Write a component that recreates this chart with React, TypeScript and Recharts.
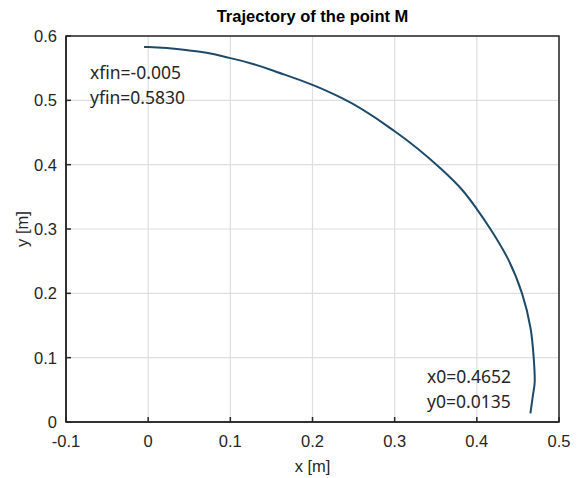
import { LineChart, Line, XAxis, YAxis, CartesianGrid, Label, ReferenceArea } from "recharts";

// trajectory of point M, from x0/y0 (bottom right) to xfin/yfin (top left)
const xs = [0.4652, 0.468, 0.4705, 0.4692, 0.4655, 0.455, 0.4385, 0.4165, 0.4, 0.382, 0.356, 0.3, 0.2365, 0.2, 0.166, 0.1, 0.05, 0, -0.005];
const ys = [0.0135, 0.039, 0.065, 0.1, 0.145, 0.2, 0.252, 0.3, 0.331, 0.361, 0.394, 0.452, 0.503, 0.524, 0.54, 0.5656, 0.5775, 0.5828, 0.583];

const xTicks = [-0.1, 0, 0.1, 0.2, 0.3, 0.4, 0.5];
const yTicks = [0, 0.1, 0.2, 0.3, 0.4, 0.5, 0.6];

const data = xs.map((x, i) => ({ x, y: ys[i] }));

const INK = "#262626";
const FONT = "'Liberation Sans', Arial, sans-serif";
const TS = 16.5;

const tickStyle = { fill: INK, fontSize: TS, fontFamily: FONT };

const note: React.CSSProperties = {
  position: "absolute",
  fontFamily: "'Noto Sans', 'Open Sans', sans-serif",
  fontSize: 17.5,
  color: INK,
  lineHeight: "25px",
  whiteSpace: "pre",
};

// rotated y label, centred on the plot height
const YLabel = ({ viewBox }: any) => {
  const cx = viewBox.x + 22;
  const cy = viewBox.y + viewBox.height / 2;
  return (
    <text
      x={cx}
      y={cy}
      transform={`rotate(-90 ${cx} ${cy})`}
      textAnchor="middle"
      dominantBaseline="central"
      fill={INK}
      fontSize={TS}
      fontFamily={FONT}
    >
      y  [m]
    </text>
  );
};

export default function App() {
  return (
    <div style={{ position: "absolute", left: 0, top: 0, width: 578, height: 478, background: "#fff" }}>
      <div
        style={{
          position: "absolute",
          left: 66,
          width: 493,
          top: 7,
          textAlign: "center",
          fontFamily: FONT,
          fontWeight: "bold",
          fontSize: 16.5,
          color: "#000",
        }}
      >
        Trajectory of the point M
      </div>
      <LineChart width={578} height={478} data={data} margin={{ top: 36, right: 19, bottom: 0, left: 0 }}>
        <CartesianGrid stroke="#dedede" strokeWidth={1.2} fill="none" />
        <XAxis
          dataKey="x"
          type="number"
          domain={[-0.1, 0.5]}
          ticks={xTicks}
          height={56}
          tickSize={-5}
          tickMargin={18}
          tick={tickStyle}
          stroke={INK}
          axisLine={{ stroke: INK, strokeWidth: 1.5 }}
          tickLine={{ stroke: INK, strokeWidth: 1.5 }}
        >
          <Label value="x  [m]" position="insideBottom" offset={6} fill={INK} fontSize={TS} fontFamily={FONT} />
        </XAxis>
        <XAxis
          xAxisId="top"
          orientation="top"
          dataKey="x"
          type="number"
          domain={[-0.1, 0.5]}
          ticks={xTicks}
          height={0}
          tickSize={-5}
          tick={false}
          stroke={INK}
          axisLine={{ stroke: INK, strokeWidth: 1.5 }}
          tickLine={{ stroke: INK, strokeWidth: 1.5 }}
        />
        <YAxis
          type="number"
          domain={[0, 0.6]}
          ticks={yTicks}
          width={66}
          tickSize={-5}
          tickMargin={14}
          tick={tickStyle}
          stroke={INK}
          axisLine={{ stroke: INK, strokeWidth: 1.5 }}
          tickLine={{ stroke: INK, strokeWidth: 1.5 }}
        >
          <Label content={<YLabel />} />
        </YAxis>
        <YAxis
          yAxisId="right"
          orientation="right"
          type="number"
          domain={[0, 0.6]}
          ticks={yTicks}
          width={0}
          tickSize={-5}
          tick={false}
          stroke={INK}
          axisLine={{ stroke: INK, strokeWidth: 1.5 }}
          tickLine={{ stroke: INK, strokeWidth: 1.5 }}
        />
        <ReferenceArea x1={-0.1} x2={0.5} y1={0} y2={0.6} fill="none" stroke={INK} strokeWidth={1.5} />
        <Line
          type="monotoneY"
          dataKey="y"
          stroke="#1d4a6a"
          strokeWidth={2}
          dot={false}
          isAnimationActive={false}
        />
      </LineChart>
      <div style={{ ...note, left: 90, top: 60 }}>{"xfin=-0.005\nyfin=0.5830"}</div>
      <div style={{ ...note, left: 427, top: 364 }}>{"x0=0.4652\ny0=0.0135"}</div>
    </div>
  );
}
